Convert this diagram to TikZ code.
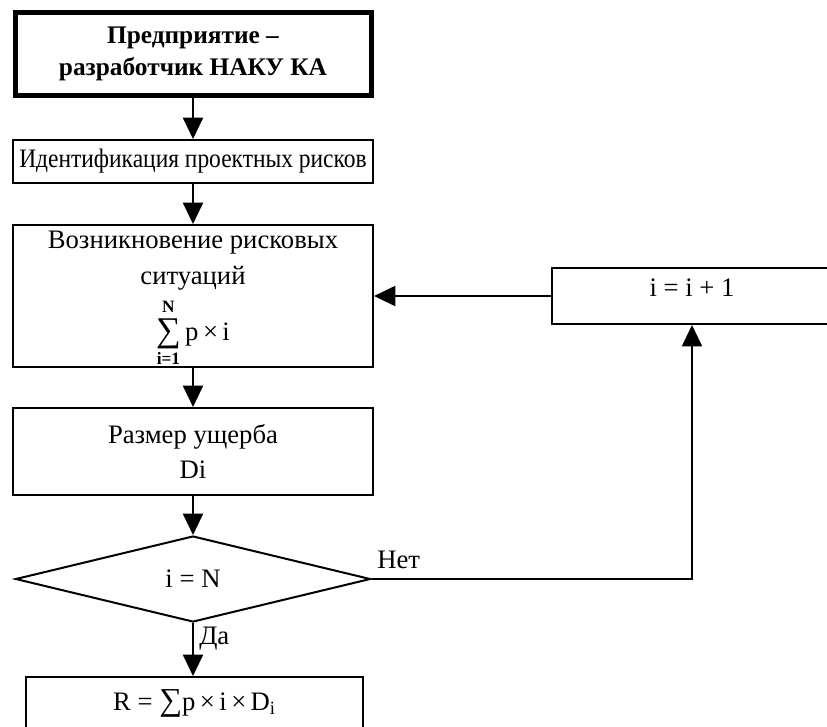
\documentclass[tikz,border=0pt]{standalone}
\usepackage{fontspec}
\setmainfont{Liberation Serif}
\usepackage{graphicx}
\usetikzlibrary{shapes.geometric}
\usetikzlibrary{arrows.meta}

\begin{document}
\begin{tikzpicture}[x=0.75pt,y=0.75pt,yscale=-1,xscale=1,
  blk/.style={draw,rectangle,line width=1.5pt,inner sep=0pt,align=center,font=\fontsize{20}{26}\selectfont},
  arr/.style={line width=1.5pt,-{Triangle[length=16pt,width=15pt]}},
  txt/.style={inner sep=0.75pt,font=\fontsize{20}{24}\selectfont}]
\useasboundingbox (0,0) rectangle (827,726);

%Shape: Rectangle (thick)
\node [blk,line width=3.75pt,minimum width=267pt,minimum height=62.25pt,font=\bfseries\fontsize{19}{24}\selectfont] (firm) at (193,54) {Предприятие –\\разработчик НАКУ КА};
%Shape: Rectangle
\node [blk,minimum width=270pt,minimum height=32.25pt] (ident) at (193,161.5) {\scalebox{0.88}[1]{Идентификация проектных рисков}};
%Shape: Rectangle
\node [blk,minimum width=270pt,minimum height=106.5pt] (sit) at (193,296) {};
%Shape: Rectangle
\node [blk,minimum width=270pt,minimum height=65.25pt] (dmg) at (193,451.5) {Размер ущерба\\Di};
%Shape: Diamond
\node [blk,diamond,minimum width=266.25pt,minimum height=64.5pt] (chk) at (193,579) {i = N};
%Shape: Rectangle
\node [blk,minimum width=252.75pt,minimum height=39pt] (res) at (194.5,703) {R = {\fontsize{24}{24}\selectfont ∑}p\,×\,i\,×\,D\textsubscript{i}};
%Shape: Rectangle
\node [blk,minimum width=210pt,minimum height=42pt] (inc) at (692,296) {};

% Text Node
\node [txt] (sitA) at (193,243) {Возникновение рисковых};
% Text Node
\node [txt] (sitB) at (193,278) {ситуаций};
% Text Node
\node [txt] (sitC) at (193,334) {{\renewcommand{\arraystretch}{0.7}\begin{tabular}{@{}c@{}}{\fontsize{13}{13}\selectfont\bfseries N}\\{\fontsize{26}{26}\selectfont ∑}\\{\fontsize{13}{13}\selectfont\bfseries i=1}\end{tabular}}\,p\,×\,i};
% Text Node
\node [txt] (incT) at (692,288) {i = i + 1};
% Text Node
\node [txt,anchor=south west] (no) at (376,570) {Нет};
% Text Node
\node [txt,anchor=west] (yes) at (198,639) {Да};

%Straight Lines
\draw [arr] (firm.south) -- (firm.south |- ident.north);
\draw [arr] (ident.south) -- (ident.south |- sit.north);
\draw [arr] (sit.south) -- (sit.south |- dmg.north);
\draw [arr] (dmg.south) -- (dmg.south |- chk.north);
\draw [arr] (chk.south) -- (chk.south |- res.north);
\draw [arr] (chk.east) -| (inc.south);
\draw [arr] (inc.west) -- (inc.west -| sit.east);

\end{tikzpicture}
\end{document}
